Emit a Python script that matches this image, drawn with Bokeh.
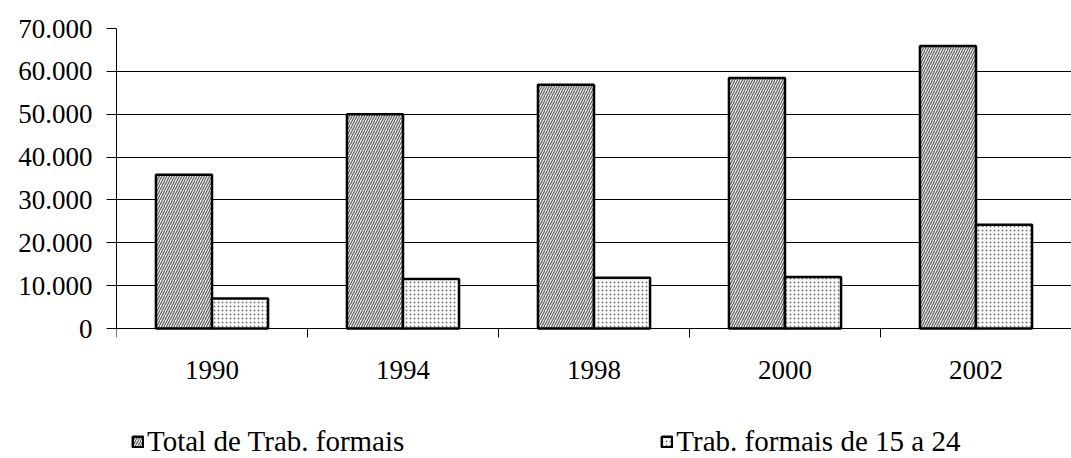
import numpy as np
from bokeh.plotting import figure
from bokeh.models import FixedTicker, Legend, LegendItem, ColumnDataSource, Range1d
from bokeh.transform import dodge
from bokeh.embed import file_html
from bokeh.resources import INLINE

# ---- data ----
years = ["1990", "1994", "1998", "2000", "2002"]
total_formais = [35900, 50000, 56900, 58450, 65900]
formais_15_24 = [7000, 11550, 11850, 12000, 24200]
series_names = ["Total de Trab. formais", "Trab. formais de 15 a 24"]
y_ticks = [0, 10000, 20000, 30000, 40000, 50000, 60000, 70000]
y_labels = ["0", "10.000", "20.000", "30.000", "40.000", "50.000", "60.000", "70.000"]

FONT = "'Liberation Serif', 'Times New Roman', serif"
FS = "27px"
LFS = "29px"

# ---- layout (pixels) ----
W, H = 1071, 458
TOP, LEFT = 28, 116
ZERO_Y = 328            # pixel row of value 0 inside the figure
y_max = y_ticks[-1]
px_per_unit = (ZERO_Y - TOP) / y_max
y_min = -(H - ZERO_Y) / px_per_unit   # extra room below the axis for labels and legend

x_centers = np.arange(len(years)) + 0.5
src = ColumnDataSource(dict(x=x_centers, total=total_formais, jovens=formais_15_24))

p = figure(width=W, height=H, x_range=Range1d(0, len(years)), y_range=Range1d(y_min, y_max),
           output_backend="svg", toolbar_location=None,
           min_border_left=LEFT, min_border_right=0, min_border_top=TOP, min_border_bottom=0)

bw = 0.2935
r1 = p.vbar(x=dodge("x", -bw / 2), top="total", width=bw, source=src,
            fill_color="#f2f2f2", hatch_pattern="/", hatch_color="#6a6a6a",
            hatch_scale=5, hatch_weight=1.3, line_color="black", line_width=2.5)
r2 = p.vbar(x=dodge("x", bw / 2), top="jovens", width=bw, source=src,
            fill_color="white", hatch_pattern=".", hatch_color="#787878",
            hatch_scale=4, hatch_weight=2, line_color="black", line_width=2.5)

# axes
xax = p.xaxis[0]
yax = p.yaxis[0]
xax.fixed_location = 0
xax.ticker = FixedTicker(ticks=list(x_centers), minor_ticks=list(range(len(years) + 1)))
xax.major_label_overrides = {float(t): lab for t, lab in zip(x_centers, years)}
xax.major_tick_out = 0
xax.major_tick_in = 0
xax.minor_tick_out = 9
xax.minor_tick_in = 0
xax.minor_tick_line_color = "black"
xax.major_label_standoff = 23

yax.bounds = (0, y_max)
yax.ticker = FixedTicker(ticks=y_ticks)
yax.major_label_overrides = {t: lab for t, lab in zip(y_ticks, y_labels)}
yax.major_tick_out = 10
yax.major_tick_in = 0
yax.minor_tick_line_color = None
yax.major_label_standoff = 14

for ax in (xax, yax):
    ax.axis_line_color = "black"
    ax.axis_line_width = 1
    ax.major_tick_line_color = "black"
    ax.major_label_text_font = FONT
    ax.major_label_text_font_size = FS
    ax.major_label_text_color = "black"

p.xgrid.visible = False
p.ygrid.grid_line_color = "black"
p.ygrid.grid_line_width = 1
p.outline_line_color = None

legend = Legend(items=[LegendItem(label=series_names[0], renderers=[r1]),
                       LegendItem(label=series_names[1], renderers=[r2])],
                orientation="horizontal", location=(15, 0),
                glyph_width=13, glyph_height=13, label_standoff=3, spacing=256,
                padding=0, margin=0, border_line_color=None, background_fill_alpha=0,
                label_text_font=FONT, label_text_font_size=LFS, label_text_color="black")
p.add_layout(legend)

open("out.html", "w").write(file_html(p, INLINE))
